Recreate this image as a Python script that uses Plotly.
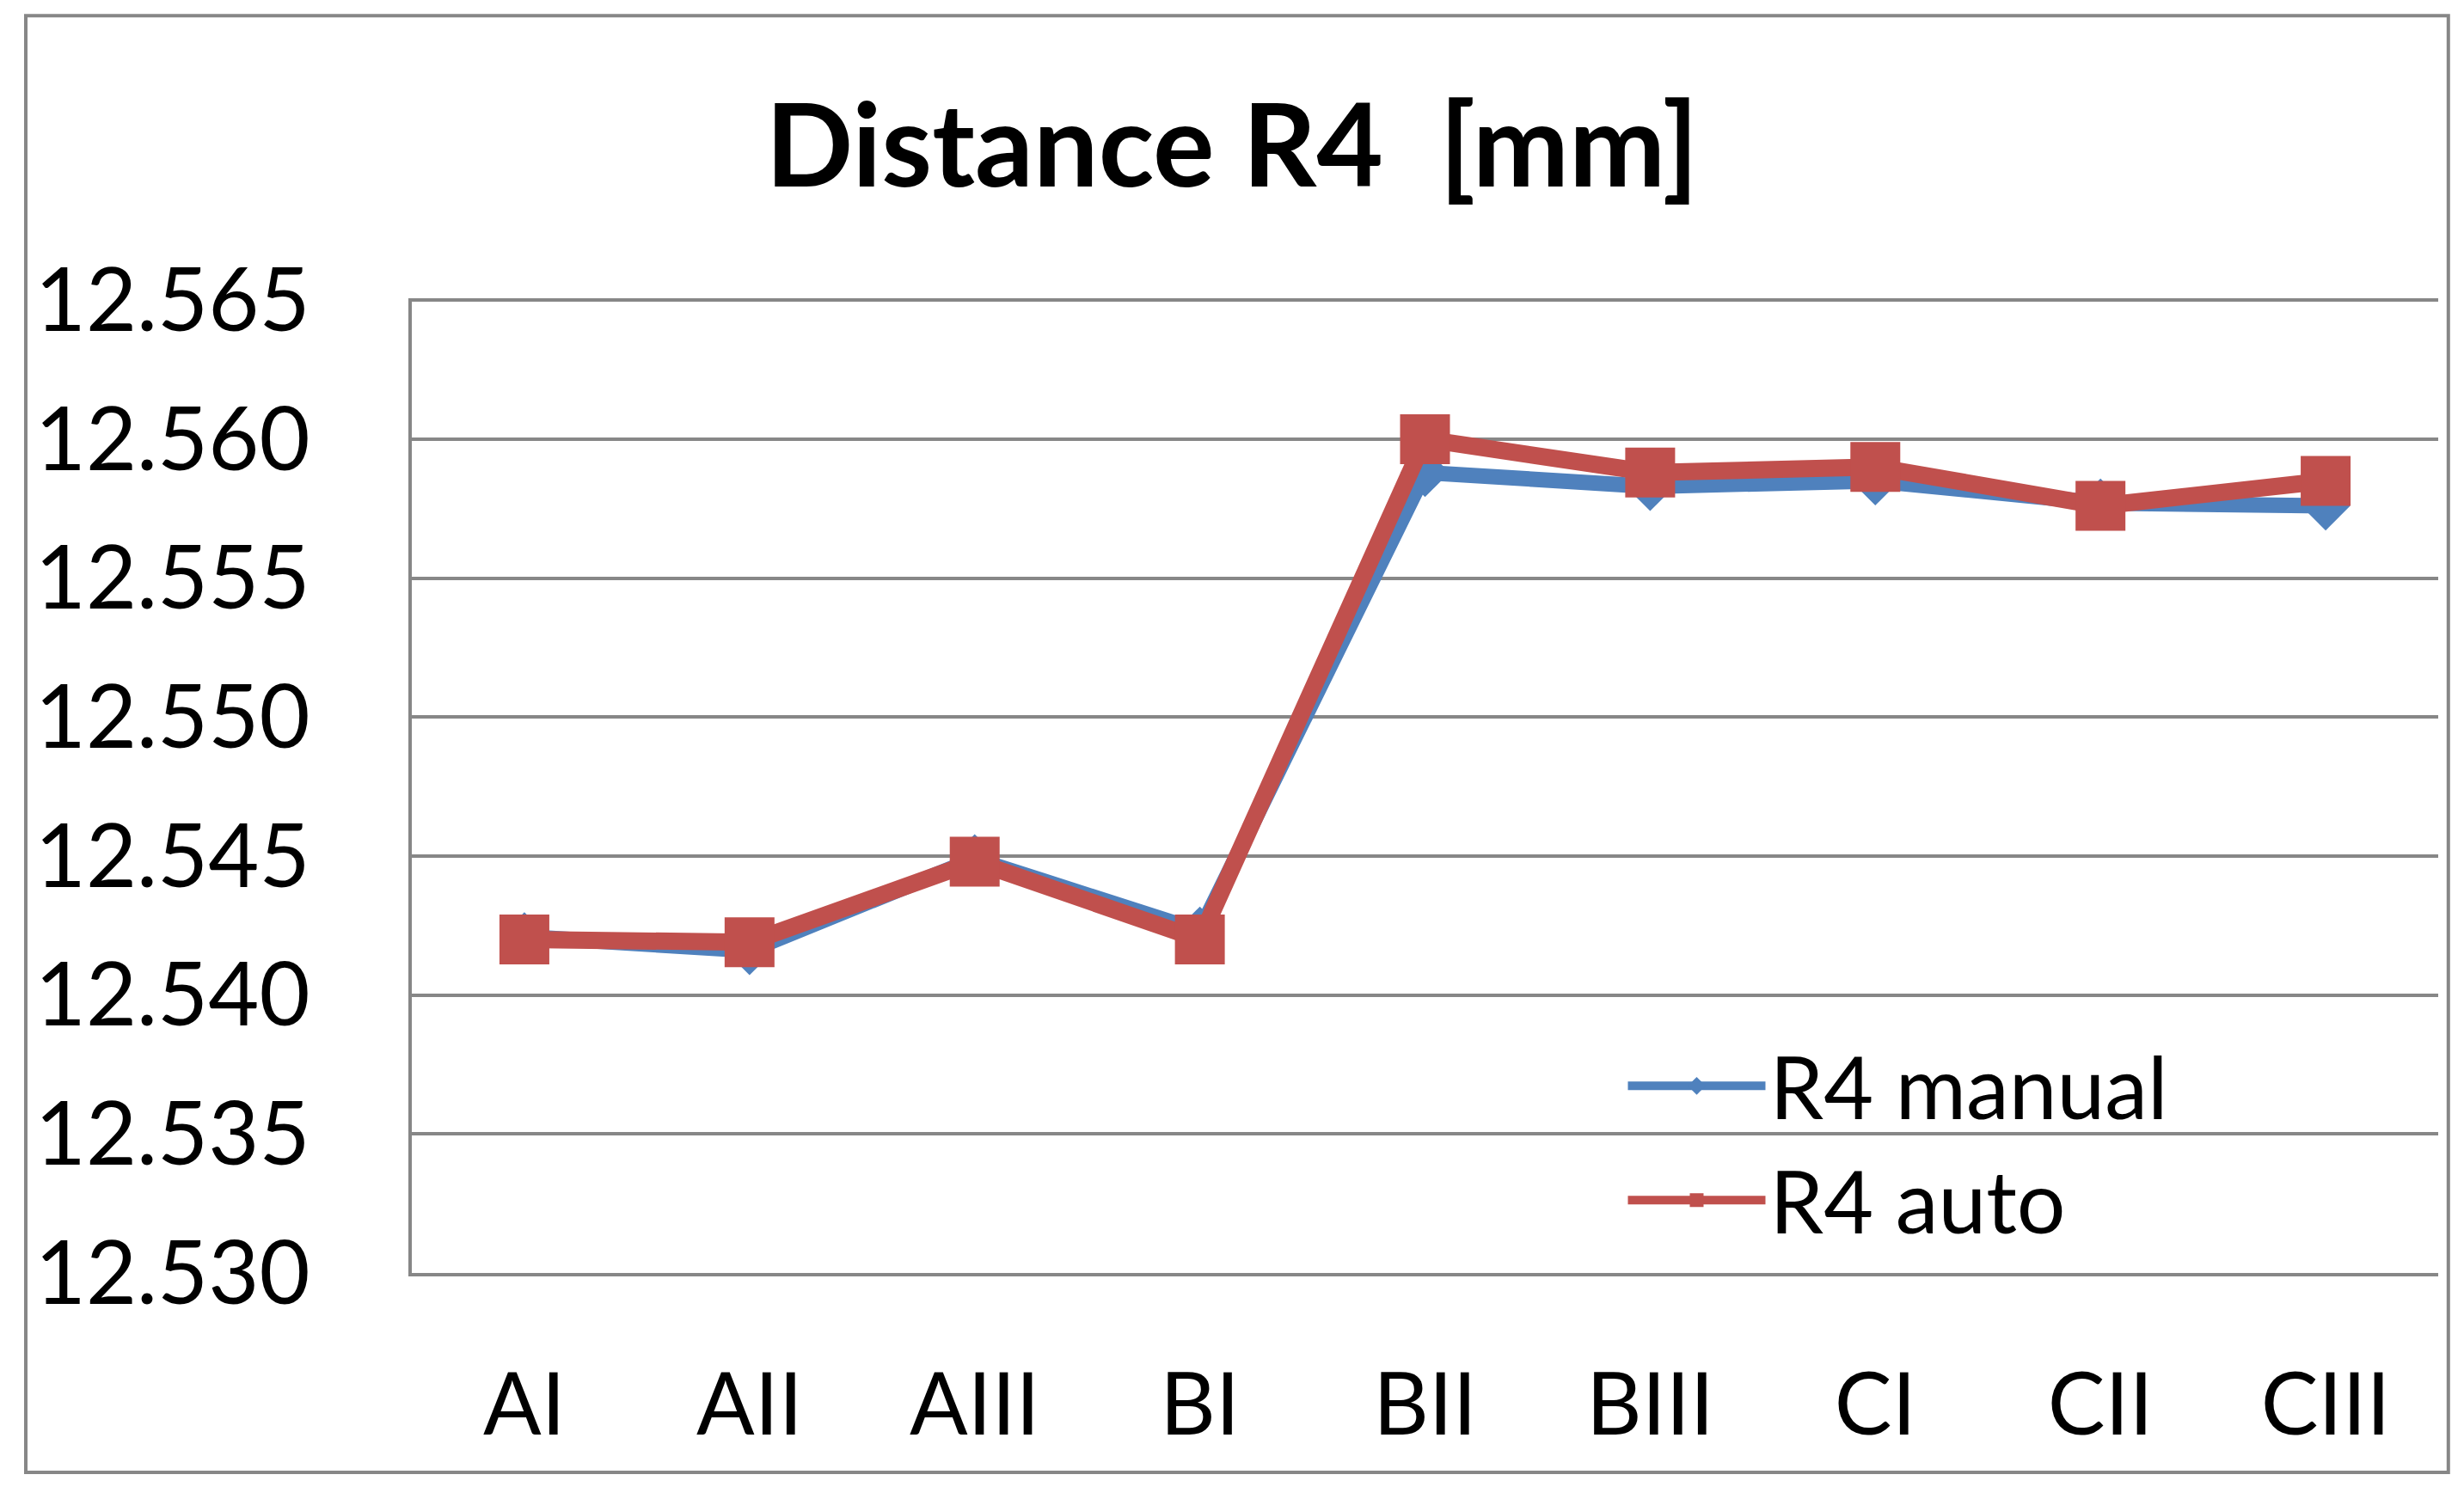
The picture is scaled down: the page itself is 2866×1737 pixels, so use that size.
import plotly.graph_objects as go

# Data
samples = ["AI", "AII", "AIII", "BI", "BII", "BIII", "CI", "CII", "CIII"]
r4_manual = [12.5421, 12.5416, 12.5449, 12.5423, 12.5588, 12.5583, 12.5585, 12.5577, 12.5576]
r4_auto = [12.5420, 12.5419, 12.5448, 12.5420, 12.5600, 12.5588, 12.5590, 12.5576, 12.5585]
y_ticks = [12.530, 12.535, 12.540, 12.545, 12.550, 12.555, 12.560, 12.565]

FONT = "Lato"
GRID = "#878787"

fig = go.Figure()

fig.add_trace(go.Scatter(
    x=samples, y=r4_manual, name="R4 manual", mode="lines+markers",
    line=dict(color="#4F81BD", width=18),
    marker=dict(symbol="diamond", size=44, color="#4F81BD"),
))
fig.add_trace(go.Scatter(
    x=samples, y=r4_auto, name="R4 auto", mode="lines+markers",
    line=dict(color="#C0504D", width=20),
    marker=dict(symbol="square", size=58, color="#C0504D"),
))

# page has an 8px body margin, so the figure is a bit smaller than the window
W, H = 2850, 1721
fig.update_layout(
    width=W, height=H,
    margin=dict(l=471, r=22, t=339, b=248),
    paper_bgcolor="white", plot_bgcolor="white",
    font=dict(family=FONT, color="black", size=100),
    title=dict(
        text="<b>Distance R4  [mm]</b>",
        x=0.5, xref="container", xanchor="center",
        y=1 - 162 / H, yref="container", yanchor="middle",
        font=dict(family=FONT, size=134, color="black"),
    ),
    legend=dict(
        x=0.598, y=0.255, xanchor="left", yanchor="top",
        bgcolor="rgba(0,0,0,0)", itemwidth=160,
        font=dict(family=FONT, size=100, color="black"),
        tracegroupgap=0,
    ),
    showlegend=True,
)

fig.update_xaxes(
    type="category", range=[-0.5, 8.5],
    showgrid=False, showline=True, linecolor=GRID, linewidth=4,
    ticks="", ticklabelstandoff=64,
    tickfont=dict(family=FONT, size=100, color="black"),
)
# top of range nudged up a hair so the 12.565 gridline is not clipped
fig.update_yaxes(
    range=[12.530, 12.56507], tickvals=y_ticks, ticktext=[f"{v:.3f}" for v in y_ticks],
    showgrid=True, gridcolor=GRID, gridwidth=4,
    showline=True, linecolor=GRID, linewidth=4,
    zeroline=False, ticks="", ticklabelstandoff=94,
    tickfont=dict(family=FONT, size=102, color="black"),
)

# outer chart border
fig.add_shape(
    type="rect", xref="paper", yref="paper",
    x0=-0.1905, x1=1.005, y0=-0.2046, y1=1.290,
    line=dict(color=GRID, width=4), fillcolor="rgba(0,0,0,0)", layer="below",
)

fig.write_html("out.html")
